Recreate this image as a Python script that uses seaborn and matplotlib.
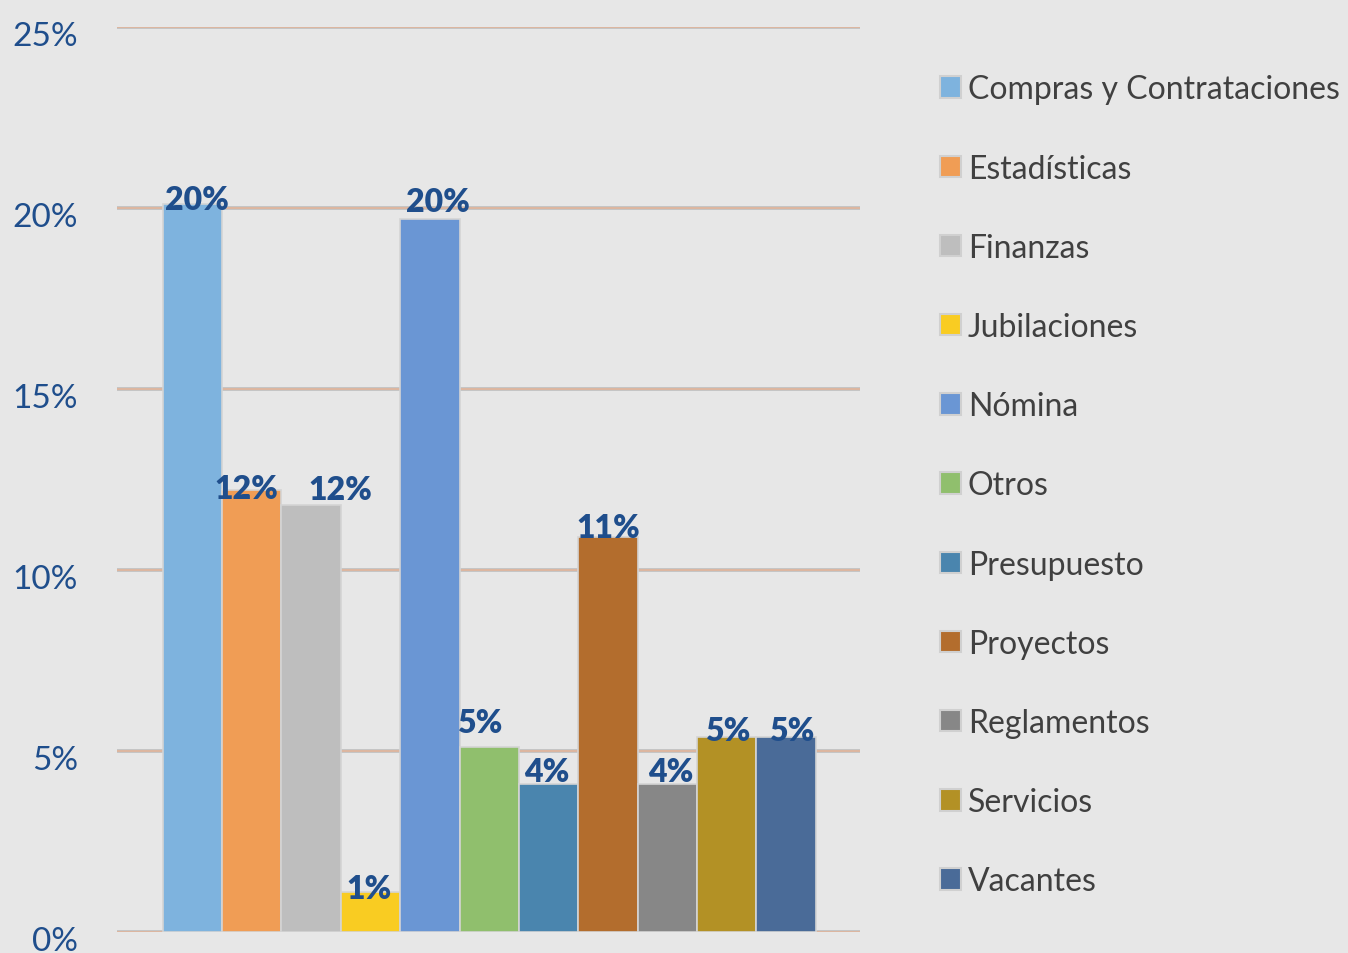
import matplotlib
matplotlib.use('Agg')
import matplotlib.pyplot as plt
import matplotlib.transforms as mtransforms
import seaborn as sns
from matplotlib.ticker import FuncFormatter

# Data (share of requests per area, %)
categories = ['Compras y Contrataciones', 'Estadísticas', 'Finanzas', 'Jubilaciones',
              'Nómina', 'Otros', 'Presupuesto', 'Proyectos', 'Reglamentos',
              'Servicios', 'Vacantes']
values = [20.1, 12.2, 11.8, 1.1, 19.7, 5.1, 4.1, 10.9, 4.1, 5.4, 5.4]
labels = ['20%', '12%', '12%', '1%', '20%', '5%', '4%', '11%', '4%', '5%', '5%']
colors = ['#7EB3DE', '#F09D55', '#BEBEBE', '#F9CC22', '#6A96D4', '#90BF6D',
          '#4A85AE', '#B36D2D', '#878787', '#B39125', '#4A6B98']
y_ticks = [0, 5, 10, 15, 20, 25]

# label nudges (points) so the excel-style labels sit where they did
label_dx = [3, -3.6, 21, -1.4, 5.8, -7.2, -1.4, 0, 2.2, 0.7, 4.3]
label_dy = [-3.6, -5.8, 4.3, -4.3, 5.8, 10.8, 2.2, 0, 2.2, -2.2, -2.2]

bg = '#E7E7E7'
sns.set_theme(style='white')
plt.rcParams['font.family'] = ['Lato', 'DejaVu Sans']

fig = plt.figure(figsize=(13.48, 9.54), dpi=100, facecolor=bg)
ax = fig.add_axes([0.0868, 0.022, 0.551, 0.9486])
ax.set_facecolor(bg)

# gridlines first so bars sit on top
for t in y_ticks:
    ax.axhline(t, color='#BDBDBD', lw=2.6, zorder=0)
    ax.axhline(t, color='#DDB6A0', lw=1.4, zorder=0.1)

sns.barplot(x=categories, y=values, hue=categories, palette=colors, width=1.0,
            edgecolor='#D4D4D4', linewidth=1.2, saturation=1, legend=True, ax=ax, zorder=2)

for i, (v, lab) in enumerate(zip(values, labels)):
    ax.annotate(lab, (i, v), xytext=(label_dx[i], label_dy[i]), textcoords='offset points',
                ha='center', va='baseline', fontsize=23, fontweight='heavy',
                color='#1F4E8C', zorder=3)

ax.set_xlim(-1.27, 11.24)
ax.set_ylim(0, 25)
ax.set_yticks(y_ticks)
ax.yaxis.set_major_formatter(FuncFormatter(lambda v, p: f'{v:.0f}%'))
ax.tick_params(axis='y', length=0, pad=28, labelsize=24, labelcolor='#1F4E8C')
shift = mtransforms.ScaledTranslation(0, -4 / 72, fig.dpi_scale_trans)
for lbl in ax.get_yticklabels():
    lbl.set_transform(lbl.get_transform() + shift)
ax.set_xticks([])
ax.set_xlabel('')
ax.set_ylabel('')
for s in ax.spines.values():
    s.set_visible(False)

handles, leg_labels = ax.get_legend_handles_labels()
ax.get_legend().remove()
for h in handles:
    h.set_edgecolor('#D0D0D0')
    h.set_linewidth(1.5)
fig.legend(handles, leg_labels, loc='upper left', bbox_to_anchor=(0.6973, 0.921),
           frameon=False, fontsize=23, labelcolor='#404040', borderpad=0,
           borderaxespad=0, handlelength=0.65, handleheight=0.65,
           handletextpad=0.22, labelspacing=1.54)

fig.savefig('out.png', dpi=100, facecolor=bg)
